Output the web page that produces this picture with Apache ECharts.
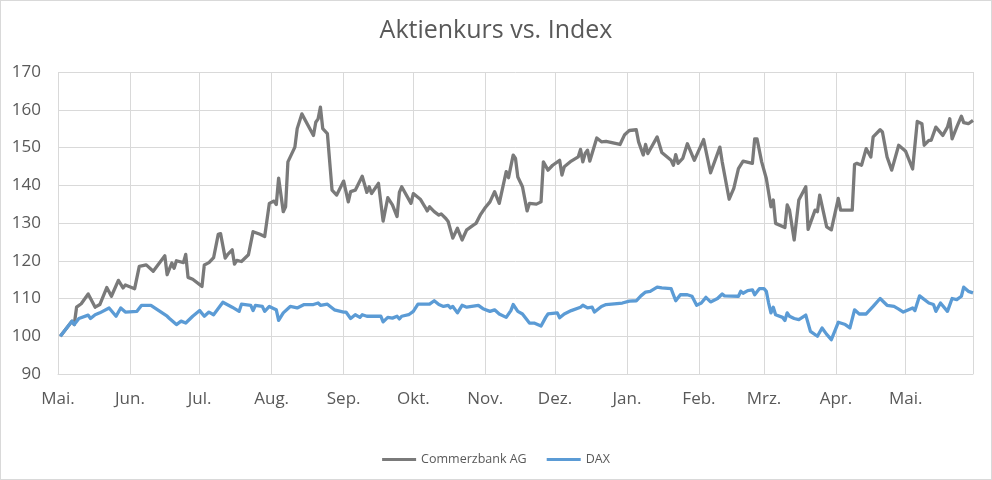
<!DOCTYPE html>
<html style="height: 100%">
	<head>
		<meta charset="utf-8">
	</head>
	<body style="height: 100%; margin: 0">
		<div id="container" style="width: 992px; height: 480px; box-sizing: border-box; border: 1px solid #d9d9d9"></div>

		<script type="text/javascript" src="https://cdn.jsdelivr.net/npm/echarts@6/dist/echarts.min.js"></script>
		<script type="text/javascript">
			var dom = document.getElementById("container");
			var myChart = echarts.init(dom);

			const monthLabels = ['Jan.', 'Feb.', 'Mrz.', 'Apr.', 'Mai.', 'Jun.', 'Jul.', 'Aug.', 'Sep.', 'Okt.', 'Nov.', 'Dez.'];
			const axisStart = '2018-05-01';
			const axisEnd = '2019-05-30';

			// Commerzbank AG, indexiert (Start = 100)
			const cbDates = [
				'2018-05-02', '2018-05-07', '2018-05-08', '2018-05-09', '2018-05-11', '2018-05-14', '2018-05-17', '2018-05-19',
				'2018-05-22', '2018-05-24', '2018-05-27', '2018-05-29', '2018-05-30', '2018-06-03', '2018-06-05', '2018-06-08',
				'2018-06-11', '2018-06-16', '2018-06-17', '2018-06-19', '2018-06-20', '2018-06-21', '2018-06-24', '2018-06-25',
				'2018-06-26', '2018-06-28', '2018-07-02', '2018-07-03', '2018-07-05', '2018-07-07', '2018-07-09', '2018-07-10',
				'2018-07-12', '2018-07-13', '2018-07-15', '2018-07-16', '2018-07-17', '2018-07-19', '2018-07-22', '2018-07-24',
				'2018-07-27', '2018-07-29', '2018-07-31', '2018-08-02', '2018-08-03', '2018-08-04', '2018-08-06', '2018-08-07',
				'2018-08-08', '2018-08-11', '2018-08-12', '2018-08-14', '2018-08-19', '2018-08-20', '2018-08-21', '2018-08-22',
				'2018-08-23', '2018-08-25', '2018-08-27', '2018-08-29', '2018-09-01', '2018-09-03', '2018-09-04', '2018-09-06',
				'2018-09-09', '2018-09-11', '2018-09-12', '2018-09-13', '2018-09-16', '2018-09-18', '2018-09-20', '2018-09-22',
				'2018-09-24', '2018-09-25', '2018-09-26', '2018-09-30', '2018-10-01', '2018-10-04', '2018-10-06', '2018-10-07',
				'2018-10-08', '2018-10-10', '2018-10-12', '2018-10-13', '2018-10-15', '2018-10-16', '2018-10-18', '2018-10-20',
				'2018-10-22', '2018-10-24', '2018-10-27', '2018-10-28', '2018-10-30', '2018-11-01', '2018-11-03', '2018-11-05',
				'2018-11-07', '2018-11-10', '2018-11-11', '2018-11-13', '2018-11-14', '2018-11-15', '2018-11-17', '2018-11-19',
				'2018-11-20', '2018-11-23', '2018-11-25', '2018-11-26', '2018-11-28', '2018-11-30', '2018-12-03', '2018-12-04',
				'2018-12-05', '2018-12-08', '2018-12-11', '2018-12-12', '2018-12-13', '2018-12-14', '2018-12-15', '2018-12-16',
				'2018-12-19', '2018-12-21', '2018-12-23', '2018-12-26', '2018-12-29', '2018-12-31', '2019-01-02', '2019-01-05',
				'2019-01-06', '2019-01-08', '2019-01-09', '2019-01-10', '2019-01-14', '2019-01-16', '2019-01-20', '2019-01-21',
				'2019-01-22', '2019-01-23', '2019-01-25', '2019-01-27', '2019-01-30', '2019-02-03', '2019-02-06', '2019-02-10',
				'2019-02-11', '2019-02-14', '2019-02-16', '2019-02-18', '2019-02-20', '2019-02-24', '2019-02-25', '2019-02-26',
				'2019-02-28', '2019-03-02', '2019-03-04', '2019-03-05', '2019-03-06', '2019-03-10', '2019-03-11', '2019-03-12',
				'2019-03-14', '2019-03-16', '2019-03-19', '2019-03-20', '2019-03-23', '2019-03-24', '2019-03-25', '2019-03-28',
				'2019-03-30', '2019-04-02', '2019-04-03', '2019-04-08', '2019-04-09', '2019-04-10', '2019-04-12', '2019-04-14',
				'2019-04-16', '2019-04-17', '2019-04-20', '2019-04-21', '2019-04-23', '2019-04-25', '2019-04-28', '2019-05-01',
				'2019-05-04', '2019-05-06', '2019-05-08', '2019-05-09', '2019-05-11', '2019-05-12', '2019-05-14', '2019-05-17',
				'2019-05-19', '2019-05-20', '2019-05-21', '2019-05-23', '2019-05-25', '2019-05-26', '2019-05-28', '2019-05-30'
			];
			const cbValues = [
				100, 104.0, 103.1, 107.7, 108.6, 111.2, 107.7, 108.4,
				112.9, 110.6, 114.8, 112.8, 113.6, 112.6, 118.5, 118.9,
				117.2, 121.3, 116.3, 119.4, 118.0, 120.0, 119.5, 121.7,
				115.6, 115.1, 113.2, 118.9, 119.5, 120.8, 127.0, 127.2,
				120.7, 121.6, 122.9, 119.1, 120.1, 119.8, 121.6, 127.7,
				127.0, 126.4, 135.2, 135.8, 134.9, 141.9, 133.0, 134.3,
				146.2, 150.1, 155.0, 158.9, 153.2, 156.7, 157.6, 160.7,
				155.0, 153.7, 138.7, 137.4, 141.1, 135.6, 138.3, 138.7,
				142.4, 138.1, 139.6, 137.8, 140.5, 130.5, 136.7, 134.8,
				131.7, 138.1, 139.6, 135.2, 137.8, 136.3, 134.3, 133.2,
				134.3, 133.0, 132.1, 132.4, 131.2, 130.4, 126.0, 128.6,
				125.5, 128.2, 129.5, 129.9, 132.3, 134.1, 135.6, 138.3,
				135.2, 143.6, 142.0, 148.0, 147.1, 142.2, 139.6, 133.2,
				135.2, 135.0, 135.6, 146.2, 144.0, 145.3, 146.6, 142.7,
				144.9, 146.4, 147.5, 149.5, 146.2, 148.4, 149.3, 146.4,
				152.5, 151.5, 151.6, 151.2, 150.8, 153.4, 154.5, 154.7,
				151.5, 148.0, 150.8, 148.4, 152.8, 148.7, 146.6, 145.3,
				148.1, 145.8, 147.1, 151.0, 146.6, 152.1, 143.3, 150.1,
				146.2, 136.3, 139.2, 144.4, 146.4, 145.8, 152.3, 152.3,
				146.2, 141.8, 134.3, 136.1, 129.9, 128.8, 134.8, 133.4,
				125.5, 136.1, 139.6, 128.3, 133.4, 133.0, 137.4, 129.0,
				128.2, 136.5, 133.4, 133.4, 145.5, 145.8, 145.3, 149.7,
				147.5, 152.8, 154.7, 154.1, 147.5, 144.0, 150.6, 149.0,
				144.3, 156.9, 156.3, 150.6, 151.9, 151.9, 155.4, 153.2,
				155.4, 157.6, 152.3, 155.4, 158.3, 156.6, 156.3, 157.2
			];

			// DAX, indexiert (Start = 100)
			const daxDates = [
				'2018-05-02', '2018-05-07', '2018-05-08', '2018-05-10', '2018-05-14', '2018-05-15', '2018-05-17', '2018-05-19',
				'2018-05-23', '2018-05-26', '2018-05-28', '2018-05-30', '2018-06-04', '2018-06-06', '2018-06-10', '2018-06-17',
				'2018-06-18', '2018-06-21', '2018-06-23', '2018-06-25', '2018-06-28', '2018-07-01', '2018-07-03', '2018-07-05',
				'2018-07-07', '2018-07-11', '2018-07-15', '2018-07-18', '2018-07-19', '2018-07-23', '2018-07-24', '2018-07-25',
				'2018-07-28', '2018-07-29', '2018-07-31', '2018-08-02', '2018-08-03', '2018-08-04', '2018-08-06', '2018-08-09',
				'2018-08-12', '2018-08-15', '2018-08-19', '2018-08-21', '2018-08-22', '2018-08-25', '2018-08-28', '2018-09-01',
				'2018-09-02', '2018-09-04', '2018-09-06', '2018-09-08', '2018-09-09', '2018-09-11', '2018-09-17', '2018-09-18',
				'2018-09-20', '2018-09-22', '2018-09-24', '2018-09-25', '2018-09-26', '2018-09-29', '2018-10-01', '2018-10-03',
				'2018-10-08', '2018-10-10', '2018-10-12', '2018-10-14', '2018-10-16', '2018-10-17', '2018-10-18', '2018-10-20',
				'2018-10-22', '2018-10-24', '2018-10-29', '2018-10-31', '2018-11-03', '2018-11-05', '2018-11-07', '2018-11-10',
				'2018-11-12', '2018-11-13', '2018-11-15', '2018-11-17', '2018-11-20', '2018-11-22', '2018-11-25', '2018-11-27',
				'2018-11-28', '2018-12-02', '2018-12-03', '2018-12-05', '2018-12-08', '2018-12-12', '2018-12-13', '2018-12-15',
				'2018-12-17', '2018-12-18', '2018-12-21', '2018-12-23', '2018-12-30', '2019-01-02', '2019-01-05', '2019-01-07',
				'2019-01-09', '2019-01-11', '2019-01-14', '2019-01-16', '2019-01-20', '2019-01-21', '2019-01-22', '2019-01-24',
				'2019-01-27', '2019-01-29', '2019-01-31', '2019-02-02', '2019-02-04', '2019-02-06', '2019-02-09', '2019-02-11',
				'2019-02-12', '2019-02-18', '2019-02-19', '2019-02-20', '2019-02-22', '2019-02-24', '2019-02-25', '2019-02-27',
				'2019-03-01', '2019-03-02', '2019-03-03', '2019-03-04', '2019-03-05', '2019-03-06', '2019-03-09', '2019-03-10',
				'2019-03-11', '2019-03-12', '2019-03-14', '2019-03-16', '2019-03-19', '2019-03-21', '2019-03-24', '2019-03-26',
				'2019-03-28', '2019-03-30', '2019-04-02', '2019-04-05', '2019-04-07', '2019-04-09', '2019-04-11', '2019-04-14',
				'2019-04-17', '2019-04-20', '2019-04-23', '2019-04-26', '2019-04-28', '2019-04-30', '2019-05-04', '2019-05-05',
				'2019-05-07', '2019-05-11', '2019-05-13', '2019-05-14', '2019-05-16', '2019-05-19', '2019-05-21', '2019-05-23',
				'2019-05-25', '2019-05-26', '2019-05-28', '2019-05-30'
			];
			const daxValues = [
				100, 104.0, 103.1, 104.7, 105.6, 104.7, 105.7, 106.2,
				107.5, 105.3, 107.5, 106.4, 106.6, 108.2, 108.2, 105.3,
				104.7, 103.1, 104.0, 103.5, 105.3, 106.8, 105.3, 106.4,
				105.7, 109.0, 107.7, 106.6, 108.5, 108.2, 106.8, 108.2,
				107.9, 106.6, 107.9, 107.3, 107.0, 104.2, 106.2, 107.9,
				107.5, 108.4, 108.4, 108.8, 108.2, 108.5, 107.0, 106.4,
				106.4, 104.7, 105.7, 105.0, 105.7, 105.3, 105.3, 103.8,
				105.0, 104.8, 105.3, 104.6, 105.3, 105.7, 106.6, 108.5,
				108.5, 109.4, 108.4, 107.9, 108.2, 107.5, 107.9, 106.2,
				108.2, 107.7, 108.2, 107.3, 106.6, 107.0, 105.9, 105.0,
				106.8, 108.4, 106.6, 105.9, 103.5, 103.5, 102.7, 105.0,
				105.9, 106.2, 104.9, 105.9, 106.8, 107.7, 108.2, 107.5,
				107.7, 106.4, 107.9, 108.4, 108.8, 109.3, 109.4, 110.7,
				111.7, 111.9, 113.0, 112.8, 112.6, 111.0, 109.4, 111.0,
				111.0, 110.6, 108.2, 108.8, 110.3, 109.1, 110.0, 111.2,
				110.7, 110.6, 111.9, 111.4, 112.1, 112.3, 111.0, 112.6,
				112.6, 111.9, 108.8, 106.2, 107.7, 105.7, 105.0, 104.2,
				106.2, 105.3, 104.7, 104.4, 105.6, 101.3, 100.0, 102.2,
				100.5, 99.1, 103.7, 103.1, 102.2, 107.0, 105.9, 105.9,
				107.9, 110.0, 108.2, 107.9, 107.2, 106.4, 107.5, 106.8,
				110.7, 108.8, 108.4, 106.6, 108.8, 106.6, 110.0, 109.7,
				110.6, 113.0, 111.9, 111.5
			];

			function zip(dates, values) {
				return dates.map(function (d, i) {
					return [d, values[i]];
				});
			}

			var textColor = '#595959';
			var gridColor = '#d9d9d9';
			var font = '"Open Sans", "Noto Sans", sans-serif';
			var DAY = 24 * 3600 * 1000;

			var option = {
				animation: false,
				backgroundColor: '#fff',
				textStyle: { fontFamily: font },
				title: {
					text: 'Aktienkurs vs. Index',
					left: 'center',
					top: 17,
					padding: 0,
					textStyle: { color: textColor, fontSize: 25, fontWeight: 'normal', fontFamily: font }
				},
				legend: {
					data: ['Commerzbank AG', 'DAX'],
					left: 'center',
					top: 447,
					icon: 'rect',
					itemWidth: 34,
					itemHeight: 3,
					itemGap: 20,
					textStyle: { color: textColor, fontSize: 12.5, fontFamily: font }
				},
				grid: {
					left: 57,
					right: 18,
					top: 71,
					bottom: 105,
					containLabel: false
				},
				xAxis: {
					type: 'time',
					min: axisStart,
					max: axisEnd,
					// one tick per month
					minInterval: 32 * DAY,
					maxInterval: 32 * DAY,
					axisLine: { show: true, lineStyle: { color: gridColor, width: 1 } },
					axisTick: { show: false },
					axisLabel: {
						color: textColor,
						fontSize: 17,
						margin: 17,
						hideOverlap: false,
						formatter: function (value) {
							return monthLabels[new Date(value).getMonth()];
						}
					},
					splitLine: { show: true, lineStyle: { color: gridColor, width: 1 } }
				},
				yAxis: {
					type: 'value',
					min: 90,
					max: 170,
					interval: 10,
					axisLine: { show: false },
					axisTick: { show: false },
					axisLabel: { color: textColor, fontSize: 17, margin: 17 },
					splitLine: { lineStyle: { color: gridColor, width: 1 } }
				},
				series: [
					{
						name: 'Commerzbank AG',
						type: 'line',
						data: zip(cbDates, cbValues),
						showSymbol: false,
						color: '#7a7a7a',
						lineStyle: { width: 3.3, color: '#7a7a7a', join: 'round' }
					},
					{
						name: 'DAX',
						type: 'line',
						data: zip(daxDates, daxValues),
						showSymbol: false,
						color: '#5b9bd5',
						lineStyle: { width: 3.3, color: '#5b9bd5', join: 'round' }
					}
				]
			};

			if (option && typeof option === 'object') {
				myChart.setOption(option);
			}
		</script>
	</body>
</html>
